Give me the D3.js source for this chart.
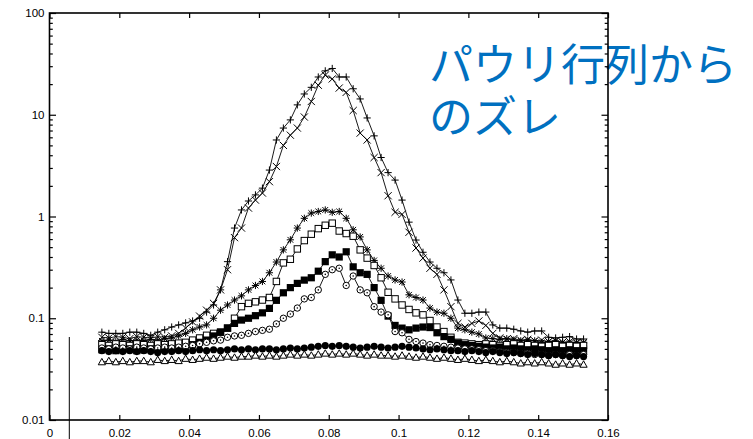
<!DOCTYPE html>
<html>
<head>
<meta charset="utf-8">
<script src="https://cdn.jsdelivr.net/npm/d3@7/dist/d3.min.js"></script>
<style>
  html, body { margin: 0; padding: 0; background: #fff; }
  svg { display: block; }
</style>
</head>
<body>
<svg id="chart" width="753" height="439"></svg>
<script>
// Sampling positions shared by all eight series
const xs = [
  0.015,0.017,0.019,0.021,0.023,0.025,0.027,0.029,0.031,0.033,
  0.035,0.037,0.039,0.041,0.043,0.045,0.047,0.049,0.051,0.053,
  0.055,0.057,0.059,0.061,0.063,0.065,0.067,0.069,0.071,0.073,
  0.075,0.077,0.079,0.081,0.083,0.085,0.087,0.089,0.091,0.093,
  0.095,0.097,0.099,0.101,0.103,0.105,0.107,0.109,0.111,0.113,
  0.115,0.117,0.119,0.121,0.123,0.125,0.127,0.129,0.131,0.133,
  0.135,0.137,0.139,0.141,0.143,0.145,0.147,0.149,0.151,0.153
];

const plusSeries = [
  0.073,0.071,0.071,0.071,0.073,0.073,0.071,0.068,0.073,0.077,
  0.082,0.086,0.09,0.094,0.10,0.115,0.135,0.19,0.36,0.77,
  1.16,1.42,1.63,1.9,2.86,5.65,7.4,8.9,12.5,16,
  18.6,23.5,27,28.5,23.5,23.5,18,14.3,9.3,6.2,
  3.8,2.7,2.28,1.45,0.88,0.587,0.445,0.357,0.31,0.28,
  0.238,0.151,0.112,0.112,0.115,0.115,0.086,0.080,0.080,0.078,
  0.075,0.073,0.075,0.075,0.065,0.064,0.065,0.066,0.0625,0.0625
];

const crossSeries = [
  0.065,0.064,0.066,0.065,0.063,0.066,0.065,0.064,0.066,0.065,
  0.067,0.071,0.08,0.092,0.105,0.12,0.14,0.19,0.3,0.62,
  0.77,1.21,1.45,1.7,2.2,3.1,5.0,6.3,7.4,9.5,
  13.5,19.5,24.5,22.5,18.3,16.6,11,6.6,5.65,3.8,
  2.7,1.6,1.1,1.05,0.7,0.49,0.39,0.31,0.27,0.19,
  0.13,0.089,0.082,0.089,0.094,0.085,0.071,0.064,0.062,0.063,
  0.061,0.062,0.06,0.061,0.059,0.06,0.058,0.059,0.057,0.058
];

const starSeries = [
  0.06,0.061,0.059,0.062,0.06,0.061,0.06,0.062,0.061,0.063,
  0.064,0.067,0.071,0.077,0.082,0.086,0.1,0.12,0.135,0.151,
  0.166,0.19,0.21,0.23,0.28,0.357,0.47,0.59,0.77,0.96,
  1.08,1.12,1.16,1.1,1.12,0.96,0.74,0.63,0.47,0.37,
  0.31,0.26,0.238,0.227,0.17,0.16,0.151,0.126,0.115,0.112,
  0.1,0.08,0.077,0.073,0.07,0.064,0.063,0.062,0.063,0.061,
  0.06,0.061,0.06,0.058,0.059,0.06,0.058,0.057,0.058,0.057
];

const openSquareSeries = [
  0.055,0.054,0.056,0.055,0.054,0.056,0.055,0.054,0.056,0.055,
  0.056,0.057,0.058,0.061,0.064,0.068,0.071,0.073,0.08,0.1,
  0.13,0.14,0.145,0.151,0.16,0.23,0.35,0.38,0.48,0.58,
  0.67,0.76,0.82,0.86,0.72,0.68,0.64,0.47,0.39,0.33,
  0.25,0.18,0.155,0.135,0.122,0.113,0.108,0.095,0.082,0.074,
  0.065,0.058,0.057,0.056,0.055,0.056,0.055,0.054,0.055,0.056,
  0.054,0.055,0.054,0.053,0.054,0.055,0.053,0.054,0.053,0.054
];

const filledSquareSeries = [
  0.049,0.05,0.048,0.049,0.05,0.048,0.049,0.05,0.049,0.05,
  0.05,0.05,0.051,0.055,0.058,0.061,0.067,0.073,0.08,0.089,
  0.096,0.1,0.106,0.113,0.125,0.15,0.178,0.2,0.22,0.237,
  0.25,0.29,0.36,0.42,0.4,0.45,0.32,0.28,0.27,0.2,
  0.15,0.105,0.085,0.08,0.077,0.08,0.082,0.081,0.072,0.066,
  0.062,0.057,0.055,0.054,0.053,0.052,0.051,0.052,0.05,0.051,
  0.05,0.049,0.05,0.049,0.048,0.049,0.048,0.049,0.048,0.048
];

const openCircleSeries = [
  0.051,0.05,0.052,0.051,0.05,0.052,0.051,0.05,0.051,0.052,
  0.051,0.052,0.053,0.054,0.056,0.058,0.06,0.061,0.065,0.067,
  0.068,0.071,0.074,0.076,0.078,0.088,0.1,0.11,0.126,0.155,
  0.16,0.19,0.27,0.3,0.31,0.21,0.26,0.19,0.178,0.13,
  0.115,0.108,0.074,0.072,0.062,0.059,0.057,0.055,0.054,0.053,
  0.052,0.051,0.05,0.05,0.049,0.048,0.048,0.047,0.046,0.046,
  0.045,0.045,0.044,0.044,0.043,0.044,0.043,0.044,0.043,0.044
];

const filledCircleSeries = [
  0.048,0.047,0.048,0.047,0.048,0.047,0.048,0.047,0.046,0.047,
  0.047,0.048,0.047,0.048,0.049,0.048,0.049,0.048,0.049,0.05,
  0.049,0.05,0.049,0.05,0.05,0.049,0.05,0.051,0.05,0.051,
  0.052,0.053,0.054,0.053,0.054,0.053,0.052,0.051,0.052,0.053,
  0.052,0.051,0.052,0.053,0.052,0.051,0.05,0.049,0.05,0.049,
  0.048,0.048,0.047,0.048,0.047,0.046,0.047,0.046,0.045,0.046,
  0.045,0.044,0.045,0.044,0.043,0.044,0.043,0.042,0.043,0.042
];

const triangleSeries = [
  0.037,0.038,0.037,0.038,0.037,0.038,0.038,0.037,0.039,0.038,
  0.039,0.038,0.04,0.039,0.04,0.041,0.04,0.041,0.042,0.041,
  0.042,0.042,0.043,0.042,0.043,0.042,0.043,0.044,0.043,0.044,
  0.043,0.044,0.045,0.044,0.045,0.044,0.045,0.044,0.043,0.044,
  0.043,0.043,0.042,0.043,0.042,0.041,0.042,0.041,0.04,0.041,
  0.04,0.039,0.04,0.039,0.038,0.039,0.038,0.037,0.038,0.037,
  0.036,0.037,0.036,0.037,0.036,0.035,0.036,0.035,0.036,0.035
];

// Axis ticks
const xTickValues = [0, 0.02, 0.04, 0.06, 0.08, 0.1, 0.12, 0.14, 0.16];
const xTickLabels = ["0", "0.02", "0.04", "0.06", "0.08", "0.1", "0.12", "0.14", "0.16"];
const yTickValues = [0.01, 0.1, 1, 10, 100];
const yTickLabels = ["0.01", "0.1", "1", "10", "100"];
const yMinorValues = [];
[0.01, 0.1, 1, 10].forEach(d => { for (let m = 2; m <= 9; m++) yMinorValues.push(+(d * m).toPrecision(3)); });

// Overlay caption
const captionLines = ["パウリ行列から", "のズレ"];

const svg = d3.select("#chart");
const plot = { left: 49.5, right: 608, top: 13, bottom: 420 };

const x = d3.scaleLinear().domain([0, 0.16]).range([plot.left, plot.right]);
const y = d3.scaleLog().domain([0.01, 100]).range([plot.bottom, plot.top]);

// Caption sits behind the frame, one text element per line
svg.append("g").selectAll("text").data(captionLines).join("text")
  .attr("x", 429)
  .attr("y", (d, i) => 81 + i * 52)
  .attr("font-family", "'Noto Sans CJK JP', 'Noto Sans CJK SC', sans-serif")
  .attr("font-size", 44)
  .attr("fill", "#0070C0")
  .text(d => d);

// Marker shapes (gnuplot point types 1..8)
const s = 3.6;
const markers = [
  { series: plusSeries, draw: g => g.append("path").attr("d", `M${-s},0H${s}M0,${-s}V${s}`).attr("fill", "none").attr("stroke", "#000") },
  { series: crossSeries, draw: g => g.append("path").attr("d", `M${-s},${-s}L${s},${s}M${-s},${s}L${s},${-s}`).attr("fill", "none").attr("stroke", "#000") },
  { series: starSeries, draw: g => g.append("path").attr("d", `M${-s},0H${s}M0,${-s}V${s}M${-s*0.8},${-s*0.8}L${s*0.8},${s*0.8}M${-s*0.8},${s*0.8}L${s*0.8},${-s*0.8}`).attr("fill", "none").attr("stroke", "#000") },
  { series: openSquareSeries, draw: g => g.append("rect").attr("x", -3.2).attr("y", -3.2).attr("width", 6.4).attr("height", 6.4).attr("fill", "#fff").attr("stroke", "#000") },
  { series: filledSquareSeries, draw: g => g.append("rect").attr("x", -3.6).attr("y", -3.6).attr("width", 7.2).attr("height", 7.2).attr("fill", "#000") },
  { series: openCircleSeries, draw: g => { g.append("circle").attr("r", 3.2).attr("fill", "#fff").attr("stroke", "#000"); g.append("circle").attr("r", 0.8).attr("fill", "#000"); } },
  { series: filledCircleSeries, draw: g => g.append("circle").attr("r", 3.6).attr("fill", "#000") },
  { series: triangleSeries, draw: g => g.append("path").attr("d", "M0,-3.8L3.6,2.6L-3.6,2.6Z").attr("fill", "#fff").attr("stroke", "#000") }
];

const line = d3.line().x(d => x(d[0])).y(d => y(d[1]));
const dataLayer = svg.append("g");

markers.forEach(m => {
  const pts = xs.map((xv, i) => [xv, m.series[i]]);
  const g = dataLayer.append("g");
  g.append("path").datum(pts).attr("d", line)
    .attr("fill", "none").attr("stroke", "#000").attr("stroke-width", 0.9);
  g.selectAll("g.pt").data(pts).join("g").attr("class", "pt")
    .attr("transform", d => `translate(${x(d[0])},${y(d[1])})`)
    .each(function () { m.draw(d3.select(this)); });
});

// Axes with inward ticks, mirrored on top and right
const tickFont = "'Liberation Sans', Arial, sans-serif";
function styleAxis(g) {
  g.select(".domain").remove();
  g.selectAll(".tick line").attr("stroke", "#000").attr("stroke-width", 1.2);
  g.selectAll("text").attr("font-family", tickFont).attr("font-size", 11.5).attr("fill", "#000");
}

svg.append("g").attr("transform", `translate(0,${plot.bottom})`)
  .call(d3.axisBottom(x).tickValues(xTickValues).tickSize(-5).tickPadding(9)
    .tickFormat((d, i) => xTickLabels[i]))
  .call(styleAxis);
svg.append("g").attr("transform", `translate(0,${plot.top})`)
  .call(d3.axisTop(x).tickValues(xTickValues).tickSize(-5).tickFormat(""))
  .call(styleAxis);

svg.append("g").attr("transform", `translate(${plot.left},0)`)
  .call(d3.axisLeft(y).tickValues(yTickValues).tickSize(-6.5).tickPadding(5)
    .tickFormat((d, i) => yTickLabels[i]))
  .call(styleAxis);
svg.append("g").attr("transform", `translate(${plot.left},0)`)
  .call(d3.axisLeft(y).tickValues(yMinorValues).tickSize(-3.3).tickFormat(""))
  .call(styleAxis);
svg.append("g").attr("transform", `translate(${plot.right},0)`)
  .call(d3.axisRight(y).tickValues(yTickValues).tickSize(-6.5).tickFormat(""))
  .call(styleAxis);
svg.append("g").attr("transform", `translate(${plot.right},0)`)
  .call(d3.axisRight(y).tickValues(yMinorValues).tickSize(-3.3).tickFormat(""))
  .call(styleAxis);

// Frame
svg.append("rect")
  .attr("x", plot.left).attr("y", plot.top)
  .attr("width", plot.right - plot.left).attr("height", plot.bottom - plot.top)
  .attr("fill", "none").attr("stroke", "#000").attr("stroke-width", 1.6);

// Thin marker line near the left edge
svg.append("line")
  .attr("x1", 69.3).attr("x2", 69.3).attr("y1", 337).attr("y2", 439)
  .attr("stroke", "#000").attr("stroke-width", 1);
</script>
</body>
</html>
